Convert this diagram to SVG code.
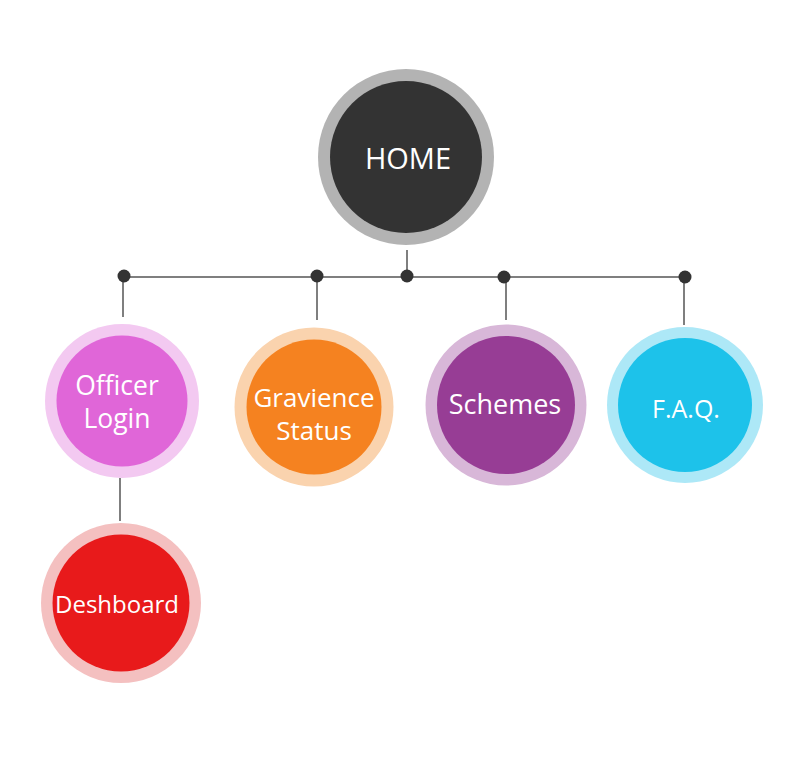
<svg xmlns="http://www.w3.org/2000/svg" width="800" height="771" viewBox="0 0 800 771">
<style>
.lbl{font-family:"Open Sans","Noto Sans","Liberation Sans",sans-serif;fill:#ffffff;text-anchor:middle}
.ln{stroke:#555555;stroke-width:1.5;fill:none}
.dot{fill:#333333}
</style>
<rect width="800" height="771" fill="#ffffff"/>
<g id="connectors">
<line class="ln" x1="407" y1="250" x2="407" y2="277"/>
<line class="ln" x1="124" y1="277" x2="684" y2="277"/>
<line class="ln" x1="123" y1="277" x2="123" y2="317"/>
<line class="ln" x1="317" y1="277" x2="317" y2="320"/>
<line class="ln" x1="506" y1="277" x2="506" y2="320"/>
<line class="ln" x1="684" y1="277" x2="684" y2="325"/>
<line class="ln" x1="120" y1="478" x2="120" y2="521"/>
<circle class="dot" cx="124" cy="276" r="6.5"/>
<circle class="dot" cx="317" cy="276" r="6.5"/>
<circle class="dot" cx="407" cy="276" r="6.5"/>
<circle class="dot" cx="504" cy="277" r="6.5"/>
<circle class="dot" cx="685" cy="277" r="6.5"/>
</g>
<g id="home">
<circle cx="406" cy="157" r="88" fill="#b3b3b3"/>
<circle cx="406" cy="157" r="76" fill="#333333"/>
<text class="lbl" x="408" y="169" font-size="29">HOME</text>
</g>
<g id="officer-login">
<circle cx="122" cy="401" r="77" fill="#f3c9f1"/>
<circle cx="122" cy="401" r="65.5" fill="#e066d8"/>
<text class="lbl" x="117" y="395" font-size="26.5">Officer</text>
<text class="lbl" x="117" y="428" font-size="26.5">Login</text>
</g>
<g id="gravience-status">
<circle cx="314" cy="407" r="79.5" fill="#fad3ae"/>
<circle cx="314" cy="407" r="67.5" fill="#f58220"/>
<text class="lbl" x="314" y="407" font-size="26">Gravience</text>
<text class="lbl" x="314" y="440" font-size="26">Status</text>
</g>
<g id="schemes">
<circle cx="506" cy="405" r="80.5" fill="#d8b7d8"/>
<circle cx="506" cy="405" r="69" fill="#973d95"/>
<text class="lbl" x="505" y="414" font-size="27">Schemes</text>
</g>
<g id="faq">
<circle cx="685" cy="405" r="78" fill="#ade8f7"/>
<circle cx="685" cy="405" r="67" fill="#1dc2ea"/>
<text class="lbl" x="686" y="418" font-size="25">F.A.Q.</text>
</g>
<g id="deshboard">
<circle cx="121" cy="603" r="80" fill="#f4c0c0"/>
<circle cx="121" cy="603" r="68.5" fill="#e81a1b"/>
<text class="lbl" x="117" y="613" font-size="24">Deshboard</text>
</g>
</svg>
